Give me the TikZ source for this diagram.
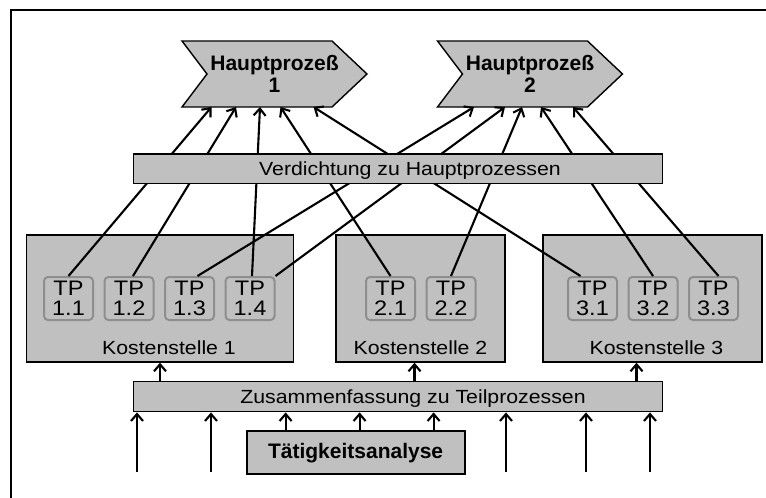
\documentclass[tikz,border=0pt]{standalone}
\usepackage{fontspec}
\setmainfont{Liberation Sans}[FakeStretch=1.12]
\newfontfamily\hpfont{Liberation Sans}
\usetikzlibrary{positioning,arrows.meta,backgrounds}
\definecolor{boxgray}{HTML}{C0C0C0}
\definecolor{tpedge}{HTML}{8E8E8E}
\tikzset{
  box/.style={draw,fill=boxgray,line width=1.4pt,inner sep=0pt},
  ks/.style={box,minimum height=127pt},
  kslabel/.style={anchor=south,yshift=7.5pt,inner sep=0pt},
  tpbox/.style={draw=tpedge,fill=boxgray,line width=2pt,rounded corners=4pt,
    minimum width=49pt,minimum height=43pt,inner sep=0pt,align=center,
    font=\fontsize{21}{20}\selectfont},
  hp/.style={minimum width=185pt,minimum height=66pt,inner sep=0pt,outer sep=0pt,
    align=center,font=\hpfont\fontsize{21}{22}\selectfont\bfseries},
  conn/.style={->,line width=2.1pt}
}
\begin{document}
\begin{tikzpicture}[x=1pt,y=-1pt,node distance=60.5pt,on grid,
  font=\fontsize{19}{21}\selectfont,>={Straight Barb[length=7pt,width=12pt]}]
  \useasboundingbox (0,0) rectangle (766,498);
  \draw[line width=2pt] (11,498) -- (11,9.5) -- (766,9.5);

  \node[ks,minimum width=266.6pt,label={[kslabel,xshift=9pt]south:Kostenstelle 1}] (ks1) at (160,298.5) {};
  \node[ks,minimum width=169pt,label={[kslabel]south:Kostenstelle 2}] (ks2) at (420.5,298.5) {};
  \node[ks,minimum width=219pt,label={[kslabel,xshift=4pt]south:Kostenstelle 3}] (ks3) at (652.5,298.5) {};

  \node[tpbox] (tp11) at (68.5,298.5) {TP\\1.1};
  \node[tpbox] (tp12) [right=of tp11] {TP\\1.2};
  \node[tpbox] (tp13) [right=of tp12] {TP\\1.3};
  \node[tpbox] (tp14) [right=of tp13] {TP\\1.4};
  \node[tpbox] (tp21) at (390.5,298.5) {TP\\2.1};
  \node[tpbox] (tp22) [right=of tp21] {TP\\2.2};
  \node[tpbox] (tp31) at (592.5,298.5) {TP\\3.1};
  \node[tpbox] (tp32) [right=of tp31] {TP\\3.2};
  \node[tpbox] (tp33) [right=of tp32] {TP\\3.3};

  \node[hp] (hp1) at (274.5,74) {Hauptprozeß\\1};
  \node[hp] (hp2) at (530,74) {Hauptprozeß\\2};
  \begin{scope}[on background layer]
    \foreach \n in {hp1,hp2}
      \draw[box] (\n.north west) -- ([xshift=-35pt]\n.north east) -- (\n.east)
        -- ([xshift=-35pt]\n.south east) -- (\n.south west) -- ([xshift=25pt]\n.west) -- cycle;
  \end{scope}

  % Teilprozesse -> Hauptprozesse
  \draw[conn] (tp11.north) -- ([xshift=-63pt]hp1.south);
  \draw[conn] ([xshift=4pt]tp12.north) -- ([xshift=-38.5pt]hp1.south);
  \draw[conn] ([xshift=2pt]tp14.north) -- ([xshift=-14.5pt]hp1.south);
  \draw[conn] (tp21.north) -- ([xshift=6pt]hp1.south);
  \draw[conn] ([xshift=-12pt]tp31.north) -- ([xshift=39pt]hp1.south);
  \draw[conn] ([xshift=8pt]tp13.north) -- ([xshift=-56pt]hp2.south);
  \draw[conn] (tp14.north east) -- ([xshift=-25pt]hp2.south);
  \draw[conn] (tp22.north) -- ([xshift=-8pt]hp2.south);
  \draw[conn] (tp32.north) -- ([xshift=11pt]hp2.south);
  \draw[conn] ([xshift=5pt]tp33.north) -- ([xshift=43pt]hp2.south);

  \node[box,minimum width=529pt,minimum height=29.5pt] (vd) at (398,168.7) {};
  \node (vdtext) at ([xshift=12pt,yshift=-2pt]vd.center) {Verdichtung zu Hauptprozessen};
  \node[box,minimum width=529pt,minimum height=30pt] (zf) at (398,396.7) {};
  \node (zftext) at ([xshift=15pt,yshift=-2pt]zf.center) {Zusammenfassung zu Teilprozessen};
  \node[box,line width=1.8pt,minimum width=218pt,minimum height=43.3pt,
    font=\hpfont\fontsize{21}{21}\selectfont\bfseries] (ta) at (355.6,452.7) {Tätigkeitsanalyse};

  \foreach \x [count=\i] in {137,211,506,586,650} {
    \coordinate (in\i) at (\x,471.7);
    \draw[conn] (in\i) -- (in\i |- zf.south);
  }
  \foreach \dx in {-70,4,78}
    \draw[conn] ([xshift=\dx pt]ta.north) -- ([xshift=\dx pt]ta.north |- zf.south);

  \draw[conn] (zf.north -| ks1.south) -- (ks1.south);
  \draw[conn] ([xshift=-6pt]zf.north -| ks2.south) -- ([xshift=-6pt]ks2.south);
  \draw[conn] ([xshift=-16pt]zf.north -| ks3.south) -- ([xshift=-16pt]ks3.south);
\end{tikzpicture}
\end{document}
